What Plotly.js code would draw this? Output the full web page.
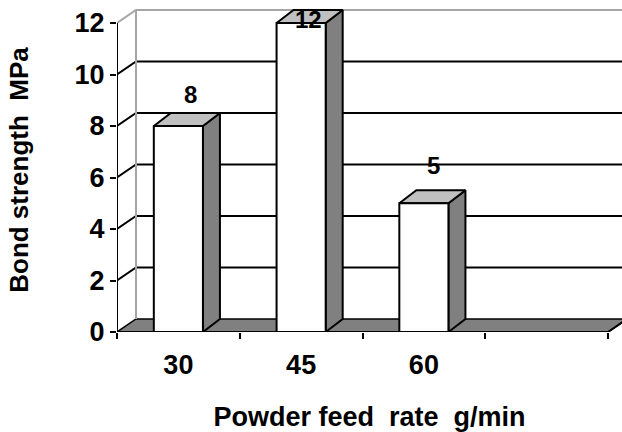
<!DOCTYPE html>
<html><head><meta charset="utf-8">
<script src="https://cdn.plot.ly/plotly-3.0.1.min.js"></script>
<style>html,body{margin:0;padding:0;background:#fff}#chart{width:622px;height:432px}</style>
</head><body><div id="chart"></div>
<script>
// ---- data ----
const categories = ['30', '45', '60', ''];          // Excel leaves a 4th, empty category
const bondStrength = [8, 12, 5, null];              // MPa
const yTickValues = [0, 2, 4, 6, 8, 10, 12];
const xTitle = 'Powder feed\u00a0\u00a0rate\u00a0\u00a0g/min';
const yTitle = 'Bond strength\u00a0\u00a0MPa';

// ---- style / geometry ----
const FIG_W = 622, FIG_H = 432;
const M = {l: 117, r: 0, t: 8, b: 100};
const PX_PER_CAT = 122.75, PX_PER_UNIT = 25.75;
const WALL_DEPTH_PX = [19, 13], BAR_DEPTH_PX = [17, 13];
const BAR_WIDTH = 0.4;
const LABEL_SHIFT = [[12, 32], [7, 4], [10, 38]];
const FONT = 'Liberation Sans, Arial, sans-serif';
const SIDE = '#808080', TOP = '#c0c0c0', FLOOR = '#808080', EDGE = '#a6a6a6';

const plotW = FIG_W - M.l - M.r, plotH = FIG_H - M.t - M.b;
const xMax = plotW / PX_PER_CAT, yMax = plotH / PX_PER_UNIT;
const wdx = WALL_DEPTH_PX[0] / PX_PER_CAT, wdy = WALL_DEPTH_PX[1] / PX_PER_UNIT;
const bdx = BAR_DEPTH_PX[0] / PX_PER_CAT, bdy = BAR_DEPTH_PX[1] / PX_PER_UNIT;
const nCat = categories.length;
const yTop = yTickValues[yTickValues.length - 1];

const traces = [];
function poly(x, y, fill, lineColor, lw) {
  traces.push({type: 'scatter', mode: 'lines', x, y,
    fill: fill ? 'toself' : 'none', fillcolor: fill || undefined,
    line: {color: lineColor, width: lw}, hoverinfo: 'skip', showlegend: false});
}

// floor
poly([0, nCat, nCat + wdx, wdx, 0], [0, 0, wdy, wdy, 0], FLOOR, '#000', 1.5);
// wall gridlines (side wall diagonal + back wall)
{
  const gx = [], gy = [];
  yTickValues.filter(v => v > 0 && v < yTop).forEach(v => {
    gx.push(0, wdx, xMax + 1, null); gy.push(v, v + wdy, v + wdy, null);
  });
  poly(gx, gy, null, '#000', 2);
}
// top edge and back-left edge of the walls
poly([0, wdx, xMax + 1], [yTop, yTop + wdy, yTop + wdy], null, EDGE, 2);
poly([wdx, wdx], [wdy, yTop + wdy], null, EDGE, 2);
// front axis lines
poly([0, 0], [0, yTop], null, '#000', 2);
poly([0, nCat, nCat + wdx], [0, 0, wdy], null, '#000', 2);

// bars
const annotations = [];
let k = 0;
bondStrength.forEach((v, i) => {
  if (v === null) return;
  const c = i + 0.5, x0 = c - BAR_WIDTH / 2, x1 = c + BAR_WIDTH / 2;
  poly([x1, x1 + bdx, x1 + bdx, x1, x1], [0, bdy, v + bdy, v, 0], SIDE, '#000', 2);
  poly([x0, x0 + bdx, x1 + bdx, x1, x0], [v, v + bdy, v + bdy, v, v], TOP, '#000', 2);
  poly([x0, x1, x1, x0, x0], [0, 0, v, v, 0], '#ffffff', '#000', 2);
  const s = LABEL_SHIFT[k++];
  annotations.push({x: c, y: v, xref: 'x', yref: 'y', text: String(v), showarrow: false,
    xshift: s[0], yshift: s[1], font: {family: FONT, size: 24, weight: 'bold', color: '#000'}});
});

const layout = {
  width: FIG_W, height: FIG_H, margin: M,
  paper_bgcolor: '#fff', plot_bgcolor: '#fff', showlegend: false,
  font: {family: FONT, color: '#000'},
  xaxis: {range: [0, xMax], showgrid: false, zeroline: false, showline: false,
    tickmode: 'array', tickvals: categories.map((_, i) => i + 0.5), ticktext: categories,
    ticks: '', ticklabelstandoff: 14,
    tickfont: {family: FONT, size: 27, weight: 'bold', color: '#000'},
    minor: {tickmode: 'array', tickvals: categories.map((_, i) => i).concat([nCat]),
      ticks: 'outside', ticklen: 6, tickwidth: 2, tickcolor: '#000', showgrid: false},
    title: {text: xTitle, font: {family: FONT, size: 27, weight: 'bold', color: '#000'}, standoff: 28}},
  yaxis: {range: [0, yMax], showgrid: false, zeroline: false, showline: false,
    tickmode: 'array', tickvals: yTickValues, ticks: 'outside', ticklen: 6, tickwidth: 2, tickcolor: '#000',
    tickfont: {family: FONT, size: 27, weight: 'bold', color: '#000'},
    title: {text: yTitle, font: {family: FONT, size: 26, weight: 'bold', color: '#000'}, standoff: 38}},
  annotations
};
Plotly.newPlot('chart', traces, layout, {displayModeBar: false, staticPlot: true});
</script></body></html>
